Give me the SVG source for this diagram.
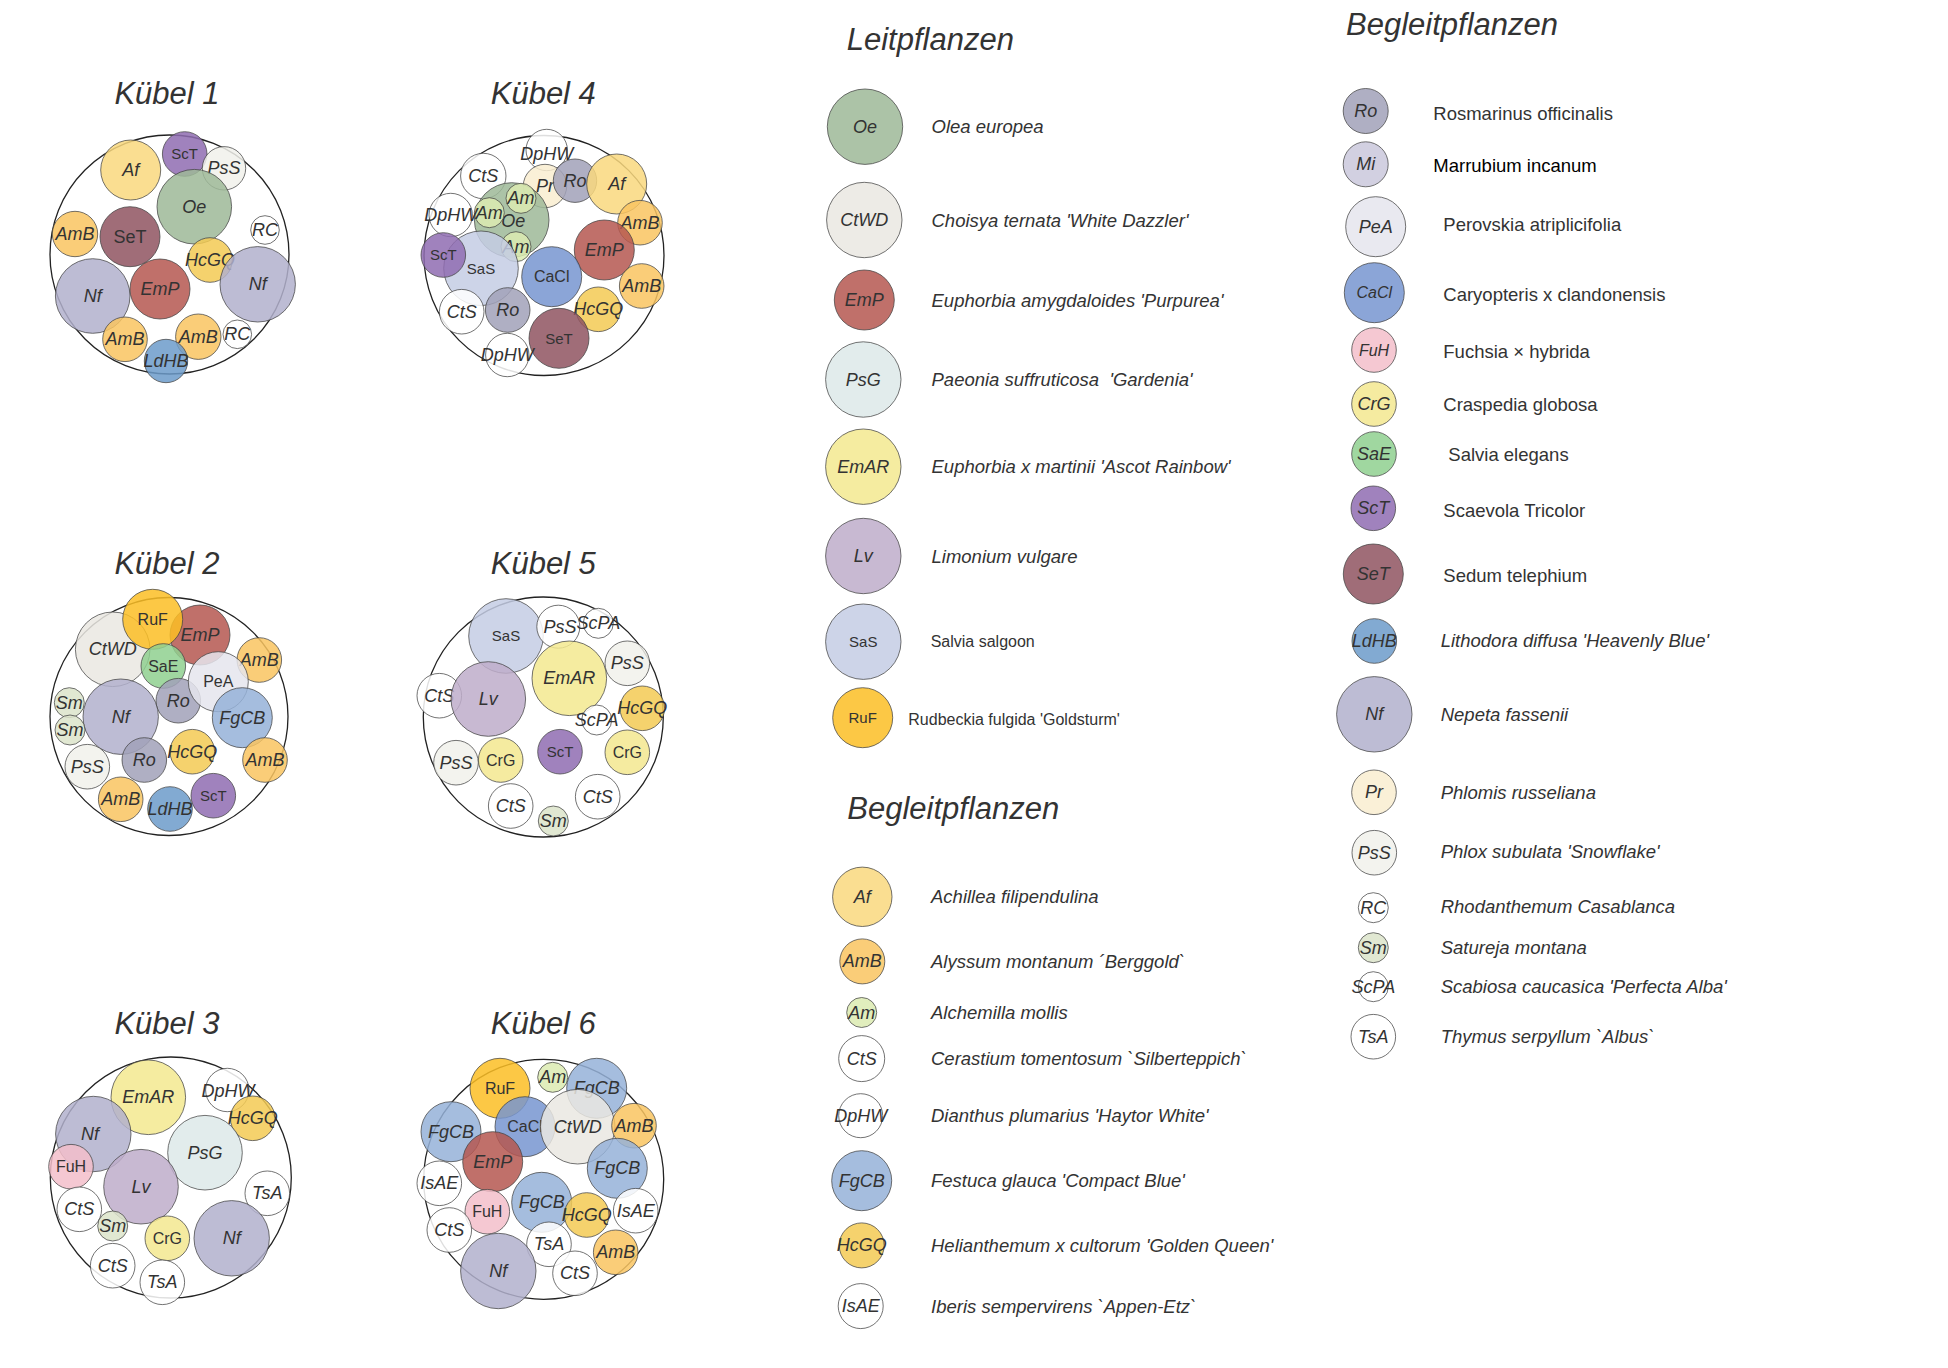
<svg xmlns="http://www.w3.org/2000/svg" width="1948" height="1368" viewBox="0 0 1948 1368">
<style>
text{font-family:"Liberation Sans",Arial,sans-serif;fill:#333}
.t{text-anchor:middle}
.i{font-style:italic;font-size:18px}
.n{font-size:16px}
.s{font-size:15px}
.ti{font-size:31px;font-style:italic}
.nm{font-size:18.5px}
.ni{font-size:18.5px;font-style:italic}
.sm{font-size:16px}
.o{fill:none;stroke:#222;stroke-width:1.3}
.c{stroke:#444;stroke-opacity:.75;stroke-width:1;fill-opacity:.85}
.Oe{fill:#9eb898}.CtWD{fill:#eae7e2}.EmP{fill:#b55750}.PsG{fill:#dde9e9}.EmAR{fill:#f3e98f}
.Lv{fill:#beadca}.SaS{fill:#c4cce4}.RuF{fill:#fbbe25}.Af{fill:#f9d87e}.AmB{fill:#f9c460}
.Am{fill:#dcebb2}.W{fill:#fff}.FgCB{fill:#95b2d8}.HcGQ{fill:#f3ca54}.Ro{fill:#a1a1b8}
.Mi{fill:#cac8dc}.PeA{fill:#e5e5ed}.CaCl{fill:#7795d0}.FuH{fill:#f3beca}.CrG{fill:#f3e78f}
.SaE{fill:#8fd08f}.ScT{fill:#8f6cb2}.SeT{fill:#8f5460}.LdHB{fill:#6c9bca}.Nf{fill:#b2b0cc}
.Pr{fill:#f9edd0}.PsS{fill:#f1f1eb}.Sm{fill:#dce4ca}
</style>
<rect width="1948" height="1368" fill="#fff"/>
<g id="connectors"/>

<!-- Kübel 1 -->
<g id="kuebel1">
<text class="t ti" x="167" y="104">Kübel 1</text>
<circle class="o" cx="169.5" cy="254.5" r="119.5"/>
<g id="k1-Af"><circle class="c Af" cx="130.7" cy="170" r="30"/><text class="t i" x="130.7" y="176">Af</text></g>
<g id="k1-ScT"><circle class="c ScT" cx="184.7" cy="154" r="22.3"/><text class="t s" x="184.7" y="159">ScT</text></g>
<g id="k1-PsS"><circle class="c PsS" cx="224" cy="168.3" r="21.7"/><text class="t i" x="224" y="174.3">PsS</text></g>
<g id="k1-Oe"><circle class="c Oe" cx="194.3" cy="206.7" r="37.3"/><text class="t i" x="194.3" y="212.7">Oe</text></g>
<g id="k1-AmB1"><circle class="c AmB" cx="75" cy="234" r="22.7"/><text class="t i" x="75" y="240">AmB</text></g>
<g id="k1-SeT"><circle class="c SeT" cx="130" cy="236.7" r="30"/><text class="t" style="font-size:18px" x="130" y="243">SeT</text></g>
<g id="k1-RC1"><circle class="c W" cx="265" cy="230" r="14.3"/><text class="t i" x="265" y="236">RC</text></g>
<g id="k1-HcGQ"><circle class="c HcGQ" cx="210" cy="260" r="22.3"/><text class="t i" x="210" y="266">HcGQ</text></g>
<g id="k1-Nf1"><circle class="c Nf" cx="92.7" cy="296" r="37.3"/><text class="t i" x="92.7" y="302">Nf</text></g>
<g id="k1-EmP"><circle class="c EmP" cx="160" cy="289" r="30"/><text class="t i" x="160" y="295">EmP</text></g>
<g id="k1-Nf2"><circle class="c Nf" cx="257.7" cy="284.3" r="37.7"/><text class="t i" x="257.7" y="290.3">Nf</text></g>
<g id="k1-AmB2"><circle class="c AmB" cx="125" cy="339.3" r="22.3"/><text class="t i" x="125" y="345.3">AmB</text></g>
<g id="k1-AmB3"><circle class="c AmB" cx="198.3" cy="336.7" r="22.7"/><text class="t i" x="198.3" y="342.7">AmB</text></g>
<g id="k1-RC2"><circle class="c W" cx="237.3" cy="334.3" r="14.3"/><text class="t i" x="237.3" y="340.3">RC</text></g>
<g id="k1-LdHB"><circle class="c LdHB" cx="166" cy="361" r="21.7"/><text class="t i" x="166" y="367">LdHB</text></g>
</g>

<!-- Kübel 4 -->
<g id="kuebel4">
<text class="t ti" x="543.3" y="104">Kübel 4</text>
<circle class="o" cx="544" cy="255.5" r="120"/>
<g id="k4-DpHW1"><circle class="c W" cx="546.7" cy="150" r="20.7"/><text class="t i" x="546.7" y="160">DpHW</text></g>
<g id="k4-CtS1"><circle class="c W" cx="483.3" cy="176" r="22.7"/><text class="t i" x="483.3" y="182">CtS</text></g>
<g id="k4-Pr"><circle class="c Pr" cx="545" cy="186" r="21.7"/><text class="t i" x="545" y="192">Pr</text></g>
<g id="k4-Ro1"><circle class="c Ro" cx="575" cy="180.7" r="21.7"/><text class="t i" x="575" y="186.7">Ro</text></g>
<g id="k4-Af"><circle class="c Af" cx="616.7" cy="184" r="30"/><text class="t i" x="616.7" y="190">Af</text></g>
<g id="k4-Oe"><circle class="c Oe" cx="511.7" cy="220" r="37.3"/><text class="t i" x="513.3" y="227">Oe</text></g>
<g id="k4-Am1"><circle class="c Am" cx="521" cy="198.3" r="15"/><text class="t i" x="521" y="204.3">Am</text></g>
<g id="k4-Am2"><circle class="c Am" cx="489.3" cy="212.7" r="15"/><text class="t i" x="489.3" y="218.7">Am</text></g>
<g id="k4-Am3"><circle class="c Am" cx="516" cy="246.7" r="15"/><text class="t i" x="516" y="252.7">Am</text></g>
<g id="k4-DpHW2"><circle class="c W" cx="450.7" cy="215" r="21.7"/><text class="t i" x="450.7" y="221">DpHW</text></g>
<g id="k4-AmB1"><circle class="c AmB" cx="640" cy="222.7" r="22.3"/><text class="t i" x="640" y="228.7">AmB</text></g>
<g id="k4-EmP"><circle class="c EmP" cx="604.3" cy="250" r="30"/><text class="t i" x="604.3" y="256">EmP</text></g>
<g id="k4-SaS"><circle class="c SaS" cx="481" cy="268.3" r="37.3"/><text class="t s" x="481" y="273.5">SaS</text></g>
<g id="k4-ScT"><circle class="c ScT" cx="443.3" cy="255" r="22.3"/><text class="t s" x="443.3" y="260.2">ScT</text></g>
<g id="k4-CaCl"><circle class="c CaCl" cx="551.7" cy="276.7" r="30"/><text class="t n" x="551.7" y="282.3">CaCl</text></g>
<g id="k4-AmB2"><circle class="c AmB" cx="641.7" cy="286" r="22.3"/><text class="t i" x="641.7" y="292">AmB</text></g>
<g id="k4-CtS2"><circle class="c W" cx="461.7" cy="311.7" r="22.3"/><text class="t i" x="461.7" y="317.7">CtS</text></g>
<g id="k4-Ro2"><circle class="c Ro" cx="507.7" cy="310" r="22.3"/><text class="t i" x="507.7" y="316">Ro</text></g>
<g id="k4-HcGQ"><circle class="c HcGQ" cx="598.3" cy="309.3" r="22.3"/><text class="t i" x="598.3" y="315.3">HcGQ</text></g>
<g id="k4-SeT"><circle class="c SeT" cx="559" cy="338.3" r="30"/><text class="t s" x="559" y="343.5">SeT</text></g>
<g id="k4-DpHW3"><circle class="c W" cx="507.3" cy="355" r="21.7"/><text class="t i" x="507.3" y="361">DpHW</text></g>
</g>

<!-- Kübel 2 -->
<g id="kuebel2">
<text class="t ti" x="167" y="574">Kübel 2</text>
<circle class="o" cx="169" cy="716.5" r="119"/>
<g id="k2-CtWD"><circle class="c CtWD" cx="112.7" cy="649.3" r="37.3"/><text class="t i" x="112.7" y="655.3">CtWD</text></g>
<g id="k2-EmP"><circle class="c EmP" cx="200" cy="635" r="30"/><text class="t i" x="200" y="641">EmP</text></g>
<g id="k2-RuF"><circle class="c RuF" cx="152.7" cy="619.3" r="30"/><text class="t n" x="152.7" y="625">RuF</text></g>
<g id="k2-SaE"><circle class="c SaE" cx="163.3" cy="666" r="22.3"/><text class="t n" x="163.3" y="671.6">SaE</text></g>
<g id="k2-AmB1"><circle class="c AmB" cx="259.3" cy="660" r="22.3"/><text class="t i" x="259.3" y="666">AmB</text></g>
<g id="k2-Ro1"><circle class="c Ro" cx="178.3" cy="700.7" r="22.3"/><text class="t i" x="178.3" y="706.7">Ro</text></g>
<g id="k2-PeA"><circle class="c PeA" cx="218.3" cy="681.7" r="30"/><text class="t n" x="218.3" y="687.3">PeA</text></g>
<g id="k2-Sm1"><circle class="c Sm" cx="69.3" cy="702.7" r="15"/><text class="t i" x="69.3" y="708.7">Sm</text></g>
<g id="k2-Nf"><circle class="c Nf" cx="120.7" cy="716.7" r="37.7"/><text class="t i" x="120.7" y="722.7">Nf</text></g>
<g id="k2-FgCB"><circle class="c FgCB" cx="242.3" cy="717.7" r="30"/><text class="t i" x="242.3" y="723.7">FgCB</text></g>
<g id="k2-Sm2"><circle class="c Sm" cx="70" cy="730" r="15"/><text class="t i" x="70" y="736">Sm</text></g>
<g id="k2-Ro2"><circle class="c Ro" cx="144.3" cy="760" r="22.3"/><text class="t i" x="144.3" y="766">Ro</text></g>
<g id="k2-HcGQ"><circle class="c HcGQ" cx="192.3" cy="751.7" r="22.3"/><text class="t i" x="192.3" y="757.7">HcGQ</text></g>
<g id="k2-AmB2"><circle class="c AmB" cx="265" cy="760" r="22.3"/><text class="t i" x="265" y="766">AmB</text></g>
<g id="k2-PsS"><circle class="c PsS" cx="87.3" cy="766.7" r="22.3"/><text class="t i" x="87.3" y="772.7">PsS</text></g>
<g id="k2-AmB3"><circle class="c AmB" cx="120.7" cy="799.3" r="22.3"/><text class="t i" x="120.7" y="805.3">AmB</text></g>
<g id="k2-LdHB"><circle class="c LdHB" cx="170" cy="809" r="22.3"/><text class="t i" x="170" y="815">LdHB</text></g>
<g id="k2-ScT"><circle class="c ScT" cx="213.3" cy="795.7" r="22.3"/><text class="t s" x="213.3" y="800.9">ScT</text></g>
</g>

<!-- Kübel 5 -->
<g id="kuebel5">
<text class="t ti" x="543.3" y="574">Kübel 5</text>
<circle class="o" cx="543.3" cy="717" r="120"/>
<g id="k5-SaS"><circle class="c SaS" cx="506" cy="636" r="37.3"/><text class="t s" x="506" y="641.2">SaS</text></g>
<g id="k5-PsS1"><circle class="c W" cx="558.3" cy="626.7" r="21.5"/><text class="t i" x="560" y="632.7">PsS</text></g>
<g id="k5-ScPA1"><circle class="c W" cx="598.3" cy="623.3" r="15"/><text class="t i" x="598.3" y="629.3">ScPA</text></g>
<g id="k5-PsS2"><circle class="c PsS" cx="627.3" cy="663.3" r="22.3"/><text class="t i" x="627.3" y="669.3">PsS</text></g>
<g id="k5-EmAR"><circle class="c EmAR" cx="569.3" cy="678.3" r="37.3"/><text class="t i" x="569.3" y="684.3">EmAR</text></g>
<g id="k5-CtS1"><circle class="c W" cx="439.3" cy="695.7" r="22.3"/><text class="t i" x="439.3" y="701.7">CtS</text></g>
<g id="k5-Lv"><circle class="c Lv" cx="488.3" cy="699" r="37.3"/><text class="t i" x="488.3" y="705">Lv</text></g>
<g id="k5-HcGQ"><circle class="c HcGQ" cx="642.3" cy="708.3" r="22.3"/><text class="t i" x="642.3" y="714.3">HcGQ</text></g>
<g id="k5-ScPA2"><circle class="c W" cx="596.7" cy="720" r="15"/><text class="t i" x="596.7" y="726">ScPA</text></g>
<g id="k5-PsS3"><circle class="c PsS" cx="456" cy="762.7" r="22.3"/><text class="t i" x="456" y="768.7">PsS</text></g>
<g id="k5-CrG1"><circle class="c CrG" cx="500.7" cy="760" r="22.3"/><text class="t n" x="500.7" y="765.6">CrG</text></g>
<g id="k5-ScT"><circle class="c ScT" cx="560" cy="751.7" r="22.3"/><text class="t s" x="560" y="756.9">ScT</text></g>
<g id="k5-CrG2"><circle class="c CrG" cx="627.3" cy="752.3" r="22.3"/><text class="t n" x="627.3" y="757.9">CrG</text></g>
<g id="k5-CtS2"><circle class="c W" cx="510.7" cy="806" r="22.3"/><text class="t i" x="510.7" y="812">CtS</text></g>
<g id="k5-CtS3"><circle class="c W" cx="597.7" cy="796.7" r="22.3"/><text class="t i" x="597.7" y="802.7">CtS</text></g>
<g id="k5-Sm"><circle class="c Sm" cx="553.3" cy="821" r="15"/><text class="t i" x="553.3" y="827">Sm</text></g>
</g>

<!-- Kübel 3 -->
<g id="kuebel3">
<text class="t ti" x="167" y="1034">Kübel 3</text>
<circle class="o" cx="170.8" cy="1177.5" r="120.5"/>
<g id="k3-EmAR"><circle class="c EmAR" cx="148.3" cy="1097.3" r="37.3"/><text class="t i" x="148.3" y="1103.3">EmAR</text></g>
<g id="k3-DpHW"><circle class="c W" cx="227.3" cy="1090" r="21.7"/><text class="t i" x="228" y="1097">DpHW</text></g>
<g id="k3-HcGQ"><circle class="c HcGQ" cx="252.7" cy="1118.3" r="22.3"/><text class="t i" x="252.7" y="1124.3">HcGQ</text></g>
<g id="k3-Nf1"><circle class="c Nf" cx="93.3" cy="1134" r="37.7"/><text class="t i" x="90" y="1140">Nf</text></g>
<g id="k3-PsG"><circle class="c PsG" cx="205" cy="1152.7" r="37.3"/><text class="t i" x="205" y="1158.7">PsG</text></g>
<g id="k3-FuH"><circle class="c FuH" cx="71" cy="1166.7" r="22.3"/><text class="t n" x="71" y="1172.3">FuH</text></g>
<g id="k3-Lv"><circle class="c Lv" cx="141" cy="1186.7" r="37.3"/><text class="t i" x="141" y="1192.7">Lv</text></g>
<g id="k3-TsA1"><circle class="c W" cx="267.3" cy="1193.3" r="22.3"/><text class="t i" x="267.3" y="1199.3">TsA</text></g>
<g id="k3-CtS1"><circle class="c W" cx="79.3" cy="1209.3" r="22.3"/><text class="t i" x="79.3" y="1215.3">CtS</text></g>
<g id="k3-Sm"><circle class="c Sm" cx="112.7" cy="1226" r="15"/><text class="t i" x="112.7" y="1232">Sm</text></g>
<g id="k3-CrG"><circle class="c CrG" cx="167.3" cy="1238.3" r="22.3"/><text class="t n" x="167.3" y="1243.9">CrG</text></g>
<g id="k3-Nf2"><circle class="c Nf" cx="231.7" cy="1238.3" r="37.7"/><text class="t i" x="231.7" y="1244.3">Nf</text></g>
<g id="k3-CtS2"><circle class="c W" cx="112.7" cy="1265.7" r="22.3"/><text class="t i" x="112.7" y="1271.7">CtS</text></g>
<g id="k3-TsA2"><circle class="c W" cx="162.3" cy="1282.3" r="22.3"/><text class="t i" x="162.3" y="1288.3">TsA</text></g>
</g>

<!-- Kübel 6 -->
<g id="kuebel6">
<text class="t ti" x="543.3" y="1034">Kübel 6</text>
<circle class="o" cx="543.7" cy="1179.3" r="120"/>
<g id="k6-RuF"><circle class="c RuF" cx="500" cy="1088.3" r="30"/><text class="t n" x="500" y="1094">RuF</text></g>
<g id="k6-Am"><circle class="c Am" cx="552.7" cy="1077.3" r="15"/><text class="t i" x="552.7" y="1083.3">Am</text></g>
<g id="k6-FgCB1"><circle class="c FgCB" cx="596.7" cy="1088.3" r="30"/><text class="t i" x="596.7" y="1094.3">FgCB</text></g>
<g id="k6-CaCl"><circle class="c CaCl" cx="525" cy="1126.7" r="30"/><text class="t n" x="525" y="1132.3">CaCl</text></g>
<g id="k6-CtWD"><circle class="c CtWD" cx="577.7" cy="1126.7" r="37.3"/><text class="t i" x="577.7" y="1132.7">CtWD</text></g>
<g id="k6-AmB1"><circle class="c AmB" cx="634" cy="1125.7" r="22.3"/><text class="t i" x="634" y="1131.7">AmB</text></g>
<g id="k6-FgCB2"><circle class="c FgCB" cx="451" cy="1131.7" r="30"/><text class="t i" x="451" y="1137.7">FgCB</text></g>
<g id="k6-EmP"><circle class="c EmP" cx="492.7" cy="1161.7" r="30"/><text class="t i" x="492.7" y="1167.7">EmP</text></g>
<g id="k6-FgCB3"><circle class="c FgCB" cx="617.3" cy="1168.3" r="30"/><text class="t i" x="617.3" y="1174.3">FgCB</text></g>
<g id="k6-IsAE1"><circle class="c W" cx="439.3" cy="1183.3" r="22.3"/><text class="t i" x="439.3" y="1189.3">IsAE</text></g>
<g id="k6-FgCB4"><circle class="c FgCB" cx="541.7" cy="1202.3" r="30"/><text class="t i" x="541.7" y="1208.3">FgCB</text></g>
<g id="k6-FuH"><circle class="c FuH" cx="487.3" cy="1211.7" r="22.3"/><text class="t n" x="487.3" y="1217.3">FuH</text></g>
<g id="k6-HcGQ"><circle class="c HcGQ" cx="586.7" cy="1215" r="22.3"/><text class="t i" x="586.7" y="1221">HcGQ</text></g>
<g id="k6-IsAE2"><circle class="c W" cx="635.7" cy="1210.7" r="22.3"/><text class="t i" x="635.7" y="1216.7">IsAE</text></g>
<g id="k6-CtS1"><circle class="c W" cx="449.3" cy="1230" r="22.3"/><text class="t i" x="449.3" y="1236">CtS</text></g>
<g id="k6-TsA"><circle class="c W" cx="549" cy="1244.3" r="22.3"/><text class="t i" x="549" y="1250.3">TsA</text></g>
<g id="k6-AmB2"><circle class="c AmB" cx="615.7" cy="1252.3" r="22.3"/><text class="t i" x="615.7" y="1258.3">AmB</text></g>
<g id="k6-Nf"><circle class="c Nf" cx="498.3" cy="1271" r="37.7"/><text class="t i" x="498.3" y="1277">Nf</text></g>
<g id="k6-CtS2"><circle class="c W" cx="575" cy="1273.3" r="22.3"/><text class="t i" x="575" y="1279.3">CtS</text></g>
</g>

<!-- Legend: Leitpflanzen -->
<g id="legend-leit">
<text class="ti" x="846.7" y="50">Leitpflanzen</text>
<g id="l-Oe"><circle class="c Oe" cx="865" cy="126.7" r="37.7"/><text class="t i" x="865" y="132.7">Oe</text><text class="ni" x="931.5" y="133.2">Olea europea</text></g>
<g id="l-CtWD"><circle class="c CtWD" cx="864.3" cy="220" r="37.7"/><text class="t i" x="864.3" y="226">CtWD</text><text class="ni" x="931.5" y="226.5">Choisya ternata 'White Dazzler'</text></g>
<g id="l-EmP"><circle class="c EmP" cx="864.3" cy="300" r="30"/><text class="t i" x="864.3" y="306">EmP</text><text class="ni" x="931.5" y="306.5">Euphorbia amygdaloides 'Purpurea'</text></g>
<g id="l-PsG"><circle class="c PsG" cx="863.3" cy="379.5" r="37.7"/><text class="t i" x="863.3" y="385.5">PsG</text><text class="ni" x="931.5" y="386">Paeonia suffruticosa&#160; 'Gardenia'</text></g>
<g id="l-EmAR"><circle class="c EmAR" cx="863.3" cy="466.7" r="37.7"/><text class="t i" x="863.3" y="472.7">EmAR</text><text class="ni" x="931.5" y="473.2">Euphorbia x martinii 'Ascot Rainbow'</text></g>
<g id="l-Lv"><circle class="c Lv" cx="863.3" cy="556" r="37.7"/><text class="t i" x="863.3" y="562">Lv</text><text class="ni" x="931.5" y="562.5">Limonium vulgare</text></g>
<g id="l-SaS"><circle class="c SaS" cx="863.3" cy="641.7" r="37.7"/><text class="t s" x="863.3" y="646.9">SaS</text><text class="sm" x="930.7" y="647.3">Salvia salgoon</text></g>
<g id="l-RuF"><circle class="c RuF" cx="862.7" cy="717.7" r="30"/><text class="t s" x="862.7" y="722.9">RuF</text><text class="sm" x="908.3" y="724.9">Rudbeckia fulgida 'Goldsturm'</text></g>
</g>

<!-- Legend: Begleitpflanzen (left) -->
<g id="legend-begleit-1">
<text class="ti" x="847.3" y="819">Begleitpflanzen</text>
<g id="l-Af"><circle class="c Af" cx="862.3" cy="896.8" r="29.7"/><text class="t i" x="862.3" y="902.8">Af</text><text class="ni" x="931" y="903.3">Achillea filipendulina</text></g>
<g id="l-AmB"><circle class="c AmB" cx="862.3" cy="961.4" r="22.5"/><text class="t i" x="862.3" y="967.4">AmB</text><text class="ni" x="931" y="967.9">Alyssum montanum ´Berggold`</text></g>
<g id="l-Am"><circle class="c Am" cx="861.7" cy="1012.5" r="15"/><text class="t i" x="861.7" y="1018.5">Am</text><text class="ni" x="931" y="1019">Alchemilla mollis</text></g>
<g id="l-CtS"><circle class="c W" cx="861.7" cy="1058.6" r="23"/><text class="t i" x="861.7" y="1064.6">CtS</text><text class="ni" x="931" y="1065.1">Cerastium tomentosum `Silberteppich`</text></g>
<g id="l-DpHW"><circle class="c W" cx="860.7" cy="1115.7" r="22"/><text class="t i" x="860.7" y="1121.7">DpHW</text><text class="ni" x="931" y="1122.2">Dianthus plumarius 'Haytor White'</text></g>
<g id="l-FgCB"><circle class="c FgCB" cx="861.7" cy="1180.7" r="30"/><text class="t i" x="861.7" y="1186.7">FgCB</text><text class="ni" x="931" y="1187.2">Festuca glauca 'Compact Blue'</text></g>
<g id="l-HcGQ"><circle class="c HcGQ" cx="861.7" cy="1245.4" r="22.5"/><text class="t i" x="861.7" y="1251.4">HcGQ</text><text class="ni" x="931" y="1251.9">Helianthemum x cultorum 'Golden Queen'</text></g>
<g id="l-IsAE"><circle class="c W" cx="860.7" cy="1306.1" r="22.5"/><text class="t i" x="860.7" y="1312.1">IsAE</text><text class="ni" x="931" y="1312.6">Iberis sempervirens `Appen-Etz`</text></g>
</g>

<!-- Legend: Begleitpflanzen (right) -->
<g id="legend-begleit-2">
<text class="ti" x="1346" y="35">Begleitpflanzen</text>
<g id="l-Ro"><circle class="c Ro" cx="1365.7" cy="111" r="22.5"/><text class="t i" x="1365.7" y="117">Ro</text><text class="nm" x="1433.3" y="119.8">Rosmarinus officinalis</text></g>
<g id="l-Mi"><circle class="c Mi" cx="1365.7" cy="164.3" r="22.5"/><text class="t i" x="1365.7" y="170.3">Mi</text><text class="nm" x="1433.3" y="171.5" style="fill:#000">Marrubium incanum</text></g>
<g id="l-PeA"><circle class="c PeA" cx="1375.7" cy="226.7" r="30"/><text class="t i" x="1375.7" y="232.7">PeA</text><text class="nm" x="1443.3" y="230.5">Perovskia atriplicifolia</text></g>
<g id="l-CaCl"><circle class="c CaCl" cx="1374.3" cy="292.7" r="30"/><text class="t" style="font-size:16px;font-style:italic" x="1374.3" y="298.3">CaCl</text><text class="nm" x="1443.3" y="300.8">Caryopteris x clandonensis</text></g>
<g id="l-FuH"><circle class="c FuH" cx="1374" cy="350" r="22.3"/><text class="t" style="font-size:16px;font-style:italic" x="1374" y="355.6">FuH</text><text class="nm" x="1443.3" y="357.5">Fuchsia × hybrida</text></g>
<g id="l-CrG"><circle class="c CrG" cx="1374" cy="404" r="22.3"/><text class="t i" x="1374" y="410">CrG</text><text class="nm" x="1443.3" y="410.5">Craspedia globosa</text></g>
<g id="l-SaE"><circle class="c SaE" cx="1374" cy="454" r="22.3"/><text class="t i" x="1374" y="460">SaE</text><text class="nm" x="1448.3" y="460.5">Salvia elegans</text></g>
<g id="l-ScT"><circle class="c ScT" cx="1373.3" cy="508.3" r="22.3"/><text class="t i" x="1373.3" y="514.3">ScT</text><text class="nm" x="1443.3" y="516.5">Scaevola Tricolor</text></g>
<g id="l-SeT"><circle class="c SeT" cx="1373.3" cy="574" r="30"/><text class="t i" x="1373.3" y="580">SeT</text><text class="nm" x="1443.3" y="581.5">Sedum telephium</text></g>
<g id="l-LdHB"><circle class="c LdHB" cx="1374.3" cy="641" r="22.3"/><text class="t i" x="1374.3" y="647">LdHB</text><text class="ni" x="1440.7" y="646.5">Lithodora diffusa 'Heavenly Blue'</text></g>
<g id="l-Nf"><circle class="c Nf" cx="1374.3" cy="714.3" r="37.7"/><text class="t i" x="1374.3" y="720.3">Nf</text><text class="ni" x="1440.7" y="720.5">Nepeta fassenii</text></g>
<g id="l-Pr"><circle class="c Pr" cx="1374" cy="792.3" r="22.3"/><text class="t i" x="1374" y="798.3">Pr</text><text class="ni" x="1440.7" y="798.8">Phlomis russeliana</text></g>
<g id="l-PsS"><circle class="c PsS" cx="1374.3" cy="852.7" r="22.3"/><text class="t i" x="1374.3" y="858.7">PsS</text><text class="ni" x="1440.7" y="858.2">Phlox subulata 'Snowflake'</text></g>
<g id="l-RC"><circle class="c W" cx="1373.3" cy="907.7" r="15"/><text class="t i" x="1373.3" y="913.7">RC</text><text class="ni" x="1440.7" y="913.2">Rhodanthemum Casablanca</text></g>
<g id="l-Sm"><circle class="c Sm" cx="1373.3" cy="947.7" r="15"/><text class="t i" x="1373.3" y="953.7">Sm</text><text class="ni" x="1440.7" y="953.8">Satureja montana</text></g>
<g id="l-ScPA"><circle class="c W" cx="1373.3" cy="986.7" r="15"/><text class="t i" x="1373.3" y="992.7">ScPA</text><text class="ni" x="1440.7" y="992.5">Scabiosa caucasica 'Perfecta Alba'</text></g>
<g id="l-TsA"><circle class="c W" cx="1373.3" cy="1036.7" r="22.3"/><text class="t i" x="1373.3" y="1042.7">TsA</text><text class="ni" x="1440.7" y="1042.5">Thymus serpyllum `Albus`</text></g>
</g>
</svg>
